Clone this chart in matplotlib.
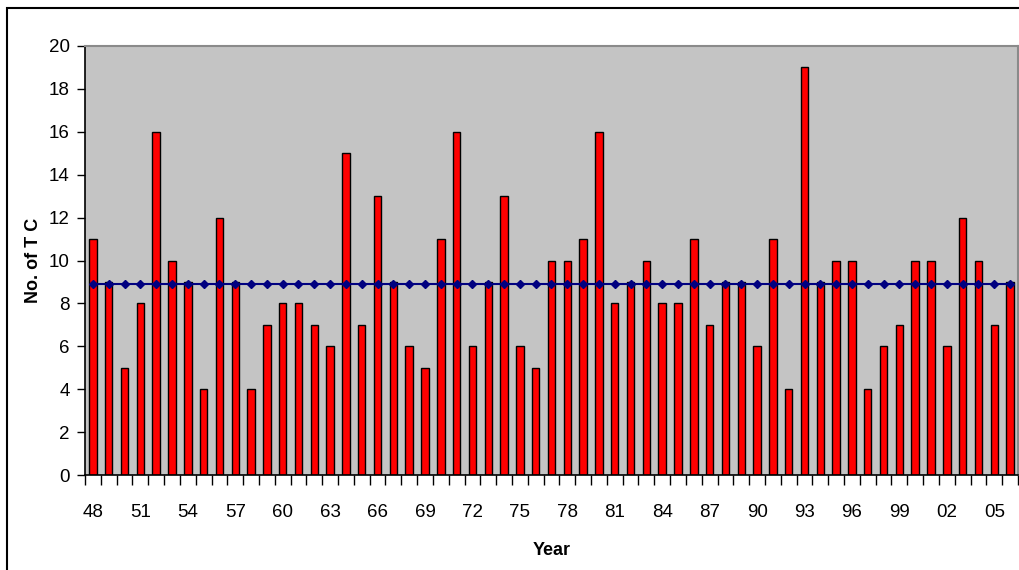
"""Número anual de ciclones tropicales (1948-2006) con la media como línea."""

import matplotlib

matplotlib.use("Agg")
import matplotlib.pyplot as plt  # noqa: E402
from matplotlib.patches import Rectangle  # noqa: E402

years = [f"{y % 100:02d}" for y in range(1948, 2007)]
tc_counts = [
    11, 9, 5, 8, 16, 10, 9, 4, 12, 9,
    4, 7, 8, 8, 7, 6, 15, 7, 13, 9,
    6, 5, 11, 16, 6, 9, 13, 6, 5, 10,
    10, 11, 16, 8, 9, 10, 8, 8, 11, 7,
    9, 9, 6, 11, 4, 19, 9, 10, 10, 4,
    6, 7, 10, 10, 6, 12, 10, 7, 9,
]
mean_tc = 8.9
y_ticks = list(range(0, 21, 2))

plt.rcParams["font.family"] = ["Liberation Sans", "DejaVu Sans"]

fig = plt.figure(figsize=(10.2, 5.7), dpi=100)
ax = fig.add_axes([85 / 1020, 1 - 475 / 570, 933 / 1020, 429 / 570])
ax.set_facecolor("#c4c4c4")

x = list(range(len(years)))
ax.bar(x, tc_counts, width=0.47, color="#ff0000", edgecolor="black",
       linewidth=1.0, zorder=2)
ax.plot(x, [mean_tc] * len(x), color="#000080", linewidth=1.5,
        marker="D", markersize=4.5, zorder=3)

ax.set_xlim(-0.5, len(years) - 0.5)
ax.set_ylim(0, 20)
ax.set_yticks(y_ticks)
ax.tick_params(axis="y", direction="out", length=6, width=1,
               labelsize=13.5, pad=5)

ax.set_xticks(x[::3], labels=years[::3])
ax.set_xticks([i - 0.5 for i in range(len(years) + 1)], minor=True)
ax.tick_params(axis="x", which="major", length=0, labelsize=13.5, pad=21)
ax.tick_params(axis="x", which="minor", direction="out", length=7, width=1)

for side in ("left", "bottom"):
    ax.spines[side].set_color("black")
    ax.spines[side].set_linewidth(1.2)
for side in ("top", "right"):
    ax.spines[side].set_color("#8a8a8a")
    ax.spines[side].set_linewidth(1.5)

ax.set_xlabel("Year", fontsize=13, fontweight="bold", labelpad=15)
ax.set_ylabel("No. of T C", fontsize=13, fontweight="bold", labelpad=5)

# marco exterior del área de gráfico (recortado a la derecha y abajo)
fig.patches.append(Rectangle((7 / 1020, -0.1), 1.2, 1 - 8 / 570 + 0.1,
                             transform=fig.transFigure, fill=False,
                             edgecolor="black", linewidth=1.5))

fig.savefig("out.png", dpi=100)
